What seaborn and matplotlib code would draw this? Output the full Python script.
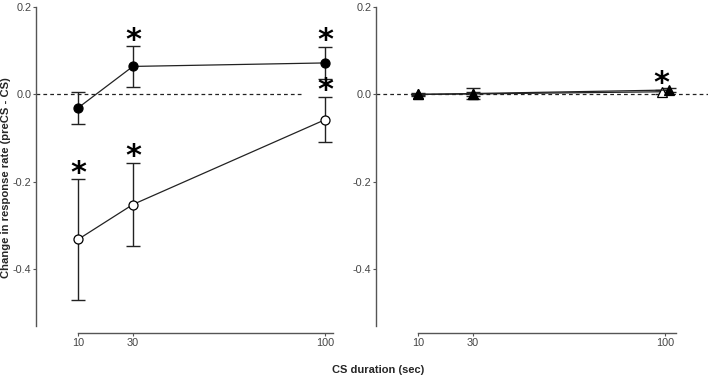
import matplotlib
matplotlib.use("Agg")
import matplotlib.pyplot as plt
import seaborn as sns
import pandas as pd

# CS durations (sec)
durations = [10, 30, 100]

# left panel: filled circles and open circles (mean, sem)
filled_mean = [-0.031, 0.064, 0.072]
filled_sem = [0.036, 0.046, 0.037]
open_mean = [-0.332, -0.252, -0.058]
open_sem = [0.138, 0.096, 0.052]
filled_sig = [False, True, True]
open_sig = [True, True, True]

# right panel: filled triangles and open triangles (mean, sem)
tri_filled_mean = [0.0, 0.002, 0.010]
tri_filled_sem = [0.003, 0.013, 0.005]
tri_open_mean = [0.0, 0.001, 0.006]
tri_open_sem = [0.002, 0.004, 0.004]
tri_filled_sig = [False, False, False]
tri_open_sig = [False, False, True]

ytick_vals = [0.2, 0.0, -0.2, -0.4]
ytick_labels = ["0.2", "0.0", "-0.2", "-0.4"]

sns.set_theme(style="ticks")
plt.rcParams['font.family'] = ['Liberation Sans', 'DejaVu Sans']

fig = plt.figure(figsize=(7.08, 3.77), dpi=100)
W, H = 708, 377
ppu = 2.744  # pixels per second on the x axis
ax1 = fig.add_axes([36 / W, (H - 326) / H, (111.3 * ppu) / W, 319 / H])
ax2 = fig.add_axes([376 / W, (H - 326) / H, (121.0 * ppu) / W, 319 / H])

grey = "#555555"


def draw_series(ax, xs, mean, sem, sig, marker, face, dx=None, ms=6.5):
    if dx is None:
        dx = [0.0] * len(xs)
    x = [v + d for v, d in zip(xs, dx)]
    ax.errorbar(x, mean, yerr=sem, fmt="none", ecolor="#222222",
                elinewidth=1.0, capsize=5, capthick=1.0, zorder=2)
    df = pd.DataFrame({"x": x, "y": mean})
    sns.lineplot(data=df, x="x", y="y", ax=ax, color="#222222", lw=0.9,
                 marker=marker, markersize=ms, markerfacecolor=face,
                 markeredgecolor="black", markeredgewidth=0.9, zorder=3)
    for xi, m, s, flag in zip(x, mean, sem, sig):
        if flag:
            ax.annotate("*", (xi, m + s), xytext=(0, -6), textcoords="offset points",
                        ha="center", va="bottom", fontsize=22, fontweight="bold",
                        color="black", family="DejaVu Sans")


draw_series(ax1, durations, filled_mean, filled_sem, filled_sig, "o", "black")
draw_series(ax1, durations, open_mean, open_sem, open_sig, "o", "white")

draw_series(ax2, durations, tri_open_mean, tri_open_sem, tri_open_sig, "^", "white",
            dx=[0, 0, -1.2], ms=7)
draw_series(ax2, durations, tri_filled_mean, tri_filled_sem, tri_filled_sig, "^", "black",
            dx=[0, 0, 1.4], ms=7)

ax1.set_xlim(-5.3, 106.0)
ax2.set_xlim(-5.3, 115.7)
ax1.axhline(0, xmin=0, xmax=(92 + 5.3) / 111.3, color="#222222", lw=0.9, ls=(0, (3, 2.5)), zorder=1)
ax2.axhline(0, color="#222222", lw=0.9, ls=(0, (3, 2.5)), zorder=1, clip_on=False)

for ax in (ax1, ax2):
    ax.set_ylim(-0.53, 0.2)
    ax.set_yticks(ytick_vals)
    ax.set_yticklabels(ytick_labels)
    ax.set_xticks(durations)
    ax.set_xticklabels([str(d) for d in durations])
    ax.set_xlabel("")
    ax.set_ylabel("")
    sns.despine(ax=ax)
    ax.spines["bottom"].set_position(("outward", 5))
    ax.spines["left"].set_bounds(-0.53, 0.2)
    ax.spines["left"].set_color(grey)
    ax.spines["bottom"].set_color(grey)
    ax.spines["left"].set_linewidth(1.0)
    ax.spines["bottom"].set_linewidth(1.0)
    ax.tick_params(axis="both", colors=grey, labelcolor="#444444",
                   labelsize=7.8, length=2.5, width=0.8, pad=1.0)
    ax.patch.set_alpha(0)

ax1.spines["bottom"].set_bounds(10, 103)
ax2.spines["bottom"].set_bounds(10, 104)

fig.text(6 / W, 1 - 178 / H, "Change in response rate (preCS - CS)", rotation=90,
         ha="center", va="center", fontsize=8.1, fontweight="bold")
fig.text(378 / W, 1 - 370 / H, "CS duration (sec)", ha="center", va="center",
         fontsize=8.0, fontweight="bold")

fig.savefig("out.png", dpi=100)
